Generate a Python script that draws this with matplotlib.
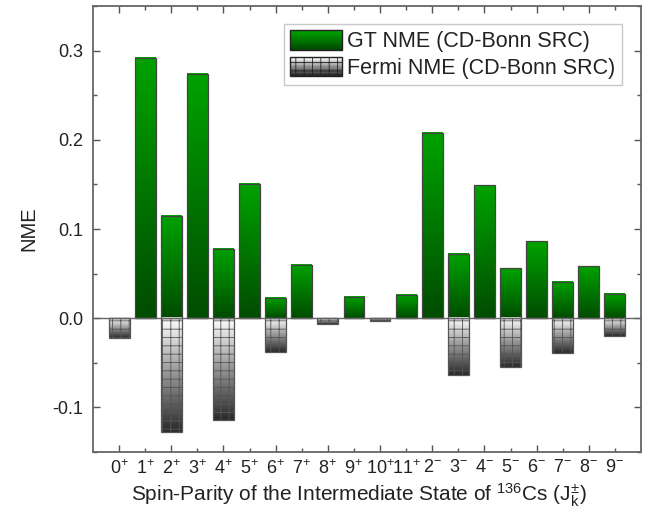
import numpy as np
import matplotlib
matplotlib.use('Agg')
import matplotlib.pyplot as plt
from matplotlib.colors import LinearSegmentedColormap
from matplotlib.patches import Rectangle
from matplotlib.legend_handler import HandlerBase

plt.rcParams['font.family'] = ['Liberation Sans', 'DejaVu Sans']
plt.rcParams['mathtext.default'] = 'regular'
plt.rcParams['hatch.linewidth'] = 0.6
plt.rcParams['hatch.color'] = '#555555'

# data
states = ['0+', '1+', '2+', '3+', '4+', '5+', '6+', '7+', '8+', '9+', '10+', '11+',
          '2-', '3-', '4-', '5-', '6-', '7-', '8-', '9-']
gt_nme = [0.0, 0.292, 0.115, 0.274, 0.078, 0.151, 0.023, 0.060, 0.0, 0.024, 0.0, 0.026,
          0.208, 0.072, 0.149, 0.056, 0.086, 0.041, 0.058, 0.027]
fermi_nme = [-0.022, 0.0, -0.128, 0.0, -0.114, 0.0, -0.038, 0.0, -0.006, 0.0, -0.003, 0.0,
             0.0, -0.064, 0.0, -0.055, 0.0, -0.039, 0.0, -0.020]

green_cmap = LinearSegmentedColormap.from_list('g', ['#004c00', '#00a200'])
gray_cmap = LinearSegmentedColormap.from_list('k', ['#2a2a2a', '#ffffff'])
grad = np.linspace(0, 1, 100).reshape(-1, 1)

fig = plt.figure(figsize=(6.46, 5.15), dpi=100)
ax = fig.add_axes([93 / 646, 63 / 515, 548 / 646, 446 / 515])

x = np.arange(len(states))
w = 0.8

gt_bars = ax.bar(x, gt_nme, width=w, facecolor='none', edgecolor='#444444', linewidth=0.9, zorder=3)
fe_bars = ax.bar(x, fermi_nme, width=w, facecolor='none', edgecolor='#555555', linewidth=0.9,
                 hatch='++', zorder=3)

# gradient fill inside every bar
for bars, cmap in [(gt_bars, green_cmap), (fe_bars, gray_cmap)]:
    for b in bars:
        h = b.get_height()
        if h == 0:
            continue
        x0 = b.get_x()
        y0 = b.get_y()
        ax.imshow(grad, extent=[x0, x0 + b.get_width(), min(y0, y0 + h), max(y0, y0 + h)],
                  origin='lower', aspect='auto', cmap=cmap, zorder=2, interpolation='bilinear')

ax.axhline(0, color='#666666', linewidth=1.0, zorder=4)

ax.set_xlim(-1, 20)
ax.set_ylim(-0.15, 0.35)

def lab(s):
    return s[:-1] + '$^{' + s[-1] + '}$'

ax.set_xticks(x[::2], [lab(s) for s in states[::2]])
ax.set_xticks(x[1::2], [lab(s) for s in states[1::2]], minor=True)
ax.set_yticks([-0.1, 0.0, 0.1, 0.2, 0.3], ['-0.1', '0.0', '0.1', '0.2', '0.3'])
ax.set_yticks(np.arange(-0.15, 0.351, 0.05), minor=True)
ax.tick_params(which='both', direction='in', top=True, right=True, color='#555555',
               labelsize=13, labelcolor='#222222', pad=7)
ax.tick_params(which='major', length=5, width=1)
ax.tick_params(which='minor', length=3, width=1)
ax.tick_params(axis='x', which='both', pad=5)
for s in ax.spines.values():
    s.set_color('#666666')
    s.set_linewidth(1.3)

ax.set_ylabel('NME', fontsize=14.5, color='#222222', labelpad=10)
ax.set_xlabel('Spin-Parity of the Intermediate State of $^{136}$Cs (J$_{k}^{\\pm}$)',
              fontsize=15, color='#222222', va='center')
ax.xaxis.set_label_coords(0.485, -0.098)


class GradHandler(HandlerBase):
    def __init__(self, cmap, hatch=None):
        super().__init__()
        self.cmap = cmap
        self.hatch = hatch

    def create_artists(self, legend, orig_handle, xdescent, ydescent, width, height, fontsize, trans):
        arts = []
        n = 12
        for i in range(n):
            r = Rectangle((-xdescent, -ydescent + height * i / n), width, height / n + 0.1,
                          facecolor=self.cmap(i / (n - 1)), edgecolor='none', transform=trans)
            arts.append(r)
        arts.append(Rectangle((-xdescent, -ydescent), width, height, facecolor='none',
                              edgecolor='#222222', linewidth=1.0, hatch=self.hatch, transform=trans))
        return arts


h1 = Rectangle((0, 0), 1, 1)
h2 = Rectangle((0, 0), 1, 1)
leg = ax.legend([h1, h2], ['GT NME (CD-Bonn SRC)', 'Fermi NME (CD-Bonn SRC)'],
                handler_map={h1: GradHandler(green_cmap), h2: GradHandler(gray_cmap, '++')},
                loc='upper right', bbox_to_anchor=(0.965, 0.96), fontsize=15.5, frameon=True,
                fancybox=False, edgecolor='#bbbbbb', handlelength=2.4, handleheight=1.0,
                handletextpad=0.25, labelspacing=0.2, borderpad=0.3, borderaxespad=0)
for t in leg.get_texts():
    t.set_color('#222222')

fig.savefig('out.png', dpi=100)
plt.close(fig)
